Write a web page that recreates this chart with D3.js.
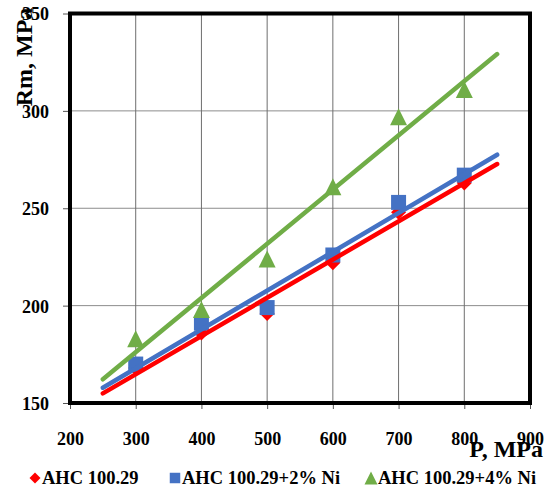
<!DOCTYPE html>
<html>
<head>
<meta charset="utf-8">
<script src="https://cdn.jsdelivr.net/npm/d3@7/dist/d3.min.js"></script>
<style>
  html, body { margin: 0; padding: 0; background: #fff; }
  svg { display: block; font-family: "Liberation Serif", "Times New Roman", serif; font-weight: bold; }
</style>
</head>
<body>
<div id="chart"></div>
<script>
// data
const pressure = [300, 400, 500, 600, 700, 800];
const rmBase = [168, 186, 196, 222, 248, 263];
const rmNi2 = [170, 191, 199, 226, 253, 267];
const rmNi4 = [183, 198, 224, 261, 297, 311];
const seriesNames = ['AHC 100.29', 'AHC 100.29+2% Ni', 'AHC 100.29+4% Ni'];
const xTicks = [200, 300, 400, 500, 600, 700, 800, 900];
const yTicks = [150, 200, 250, 300, 350];
const trendRange = [250, 850];

const W = 545, H = 492;
const plot = { left: 70, right: 530, top: 13.5, bottom: 403 };

// excel-like marker shapes, size = width in px
const shapes = {
  diamond: { draw(c, s) { const r = s / 2; c.moveTo(0, -r); c.lineTo(r, 0); c.lineTo(0, r); c.lineTo(-r, 0); c.closePath(); } },
  square: { draw(c, s) { const r = s / 2; c.rect(-r, -r, s, s); } },
  triangle: { draw(c, s) { const r = s / 2; c.moveTo(0, -r); c.lineTo(r, r); c.lineTo(-r, r); c.closePath(); } }
};

const series = [
  { name: seriesNames[0], values: rmBase, color: '#ff0000', shape: shapes.diamond, size: 15, legSize: 11 },
  { name: seriesNames[1], values: rmNi2, color: '#4472c4', shape: shapes.square, size: 15, legSize: 10.5 },
  { name: seriesNames[2], values: rmNi4, color: '#70ad47', shape: shapes.triangle, size: 17, legSize: 13 }
];

const svg = d3.select('#chart').append('svg')
  .attr('width', W)
  .attr('height', H);

const x = d3.scaleLinear().domain([200, 900]).range([plot.left, plot.right]);
const y = d3.scaleLinear().domain([150, 350]).range([plot.bottom, plot.top]);

// grid
svg.append('g').selectAll('line.gy')
  .data(yTicks.slice(1, -1))
  .enter().append('line')
  .attr('x1', plot.left).attr('x2', plot.right)
  .attr('y1', d => y(d)).attr('y2', d => y(d))
  .attr('stroke', '#8c8c8c').attr('stroke-width', 1);

svg.append('g').selectAll('line.gx')
  .data(xTicks.slice(1, -1))
  .enter().append('line')
  .attr('x1', d => x(d)).attr('x2', d => x(d))
  .attr('y1', plot.top).attr('y2', plot.bottom)
  .attr('stroke', '#6e6e6e').attr('stroke-width', 1);

// axes
const xAxis = svg.append('g')
  .attr('transform', `translate(0,${plot.bottom})`)
  .call(d3.axisBottom(x).tickValues(xTicks).tickSize(6).tickPadding(23));
const yAxis = svg.append('g')
  .attr('transform', `translate(${plot.left},0)`)
  .call(d3.axisLeft(y).tickValues(yTicks).tickSize(7).tickPadding(14));

[xAxis, yAxis].forEach(a => {
  a.select('.domain').remove();
  a.selectAll('.tick line').attr('stroke', '#555');
  a.selectAll('.tick text')
    .attr('font-family', '"Liberation Serif", serif')
    .attr('font-weight', 'bold')
    .attr('font-size', 18)
    .attr('fill', '#000');
});
yAxis.selectAll('.tick text').attr('dy', '0.36em');

// trend lines (least squares)
function fit(vals) {
  const mx = d3.mean(pressure), my = d3.mean(vals);
  const sxy = d3.sum(pressure, (p, i) => (p - mx) * (vals[i] - my));
  const sxx = d3.sum(pressure, p => (p - mx) * (p - mx));
  const k = sxy / sxx;
  return p => my + k * (p - mx);
}

const line = d3.line().x(d => x(d[0])).y(d => y(d[1]));

// markers
series.forEach(s => {
  svg.append('g').selectAll('path')
    .data(s.values)
    .enter().append('path')
    .attr('transform', (d, i) => `translate(${x(pressure[i])},${y(d)})`)
    .attr('d', d3.symbol().type(s.shape).size(s.size))
    .attr('fill', s.color);
});

series.forEach(s => {
  const f = fit(s.values);
  svg.append('path')
    .datum(trendRange.map(p => [p, f(p)]))
    .attr('d', line)
    .attr('fill', 'none')
    .attr('stroke', s.color)
    .attr('stroke-width', 4.5)
    .attr('stroke-linecap', 'round');
});

// plot frame
svg.append('rect')
  .attr('x', plot.left).attr('y', plot.top)
  .attr('width', plot.right - plot.left)
  .attr('height', plot.bottom - plot.top)
  .attr('fill', 'none')
  .attr('stroke', '#000')
  .attr('stroke-width', 4);

// axis titles
svg.append('text')
  .attr('x', 543).attr('y', 457)
  .attr('text-anchor', 'end')
  .attr('font-size', 24)
  .text('P, MPa');

svg.append('text')
  .attr('transform', 'translate(32,57) rotate(-90)')
  .attr('text-anchor', 'middle')
  .attr('font-size', 24)
  .text('Rm, MPa');

// legend
const legendX = [35, 175, 371];
const legend = svg.append('g');
series.forEach((s, i) => {
  legend.append('path')
    .attr('transform', `translate(${legendX[i]},${478})`)
    .attr('d', d3.symbol().type(s.shape).size(s.legSize))
    .attr('fill', s.color);
  legend.append('text')
    .attr('x', legendX[i] + 7)
    .attr('y', 478)
    .attr('dy', '0.35em')
    .attr('font-size', 18.5)
    .text(s.name);
});
</script>
</body>
</html>
